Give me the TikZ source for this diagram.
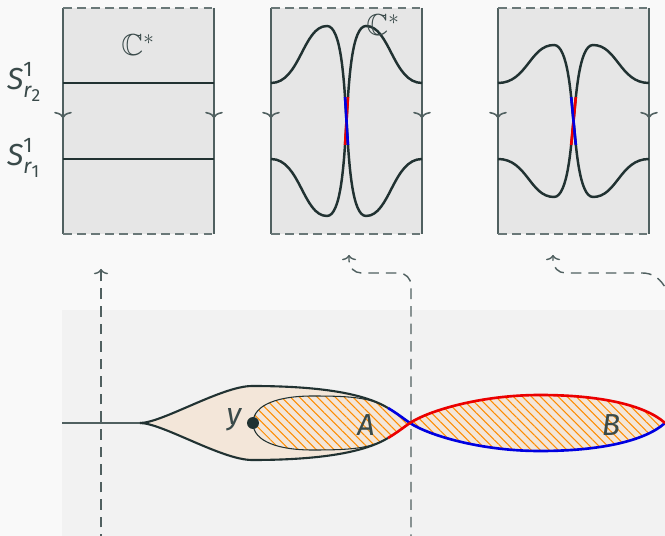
\documentclass[tikz,border=0pt]{standalone}
\usepackage{amsmath, amssymb}
\usepackage{fontspec}
\setmainfont{Fira Sans}
\usetikzlibrary{arrows.meta, patterns.meta}

\definecolor{framegray}{RGB}{80,96,96}
\definecolor{curvedark}{RGB}{33,50,50}
\definecolor{labelgray}{RGB}{58,74,74}
\definecolor{boxfill}{RGB}{230,230,230}
\definecolor{panelfill}{RGB}{242,242,242}
\definecolor{pagefill}{RGB}{249,249,249}
\definecolor{tearfill}{RGB}{243,230,217}
\definecolor{hatchorange}{RGB}{255,140,0}
\definecolor{lensred}{RGB}{235,0,0}
\definecolor{lensblue}{RGB}{0,0,225}

\begin{document}
\begin{tikzpicture}[x=0.02cm, y=-0.02cm,
    curve/.style={curvedark, line width=1.4pt},
    redseg/.style={lensred, line width=1.5pt},
    blueseg/.style={lensblue, line width=1.5pt},
    sidetip/.style={framegray, line width=0.9pt, -{Computer Modern Rightarrow[length=3.5pt, width=10pt]}},
    jump/.style={framegray, line width=0.8pt, dash pattern=on 6pt off 4pt, -{Computer Modern Rightarrow[length=3pt, width=8pt]}},
    hatch/.style={preaction={fill=tearfill}, pattern={Lines[angle=-45, distance=3.6pt, line width=0.6pt]}, pattern color=hatchorange},
    lbl/.style={text=labelgray, inner sep=1pt}]
    % 背景
    \useasboundingbox (0,0) rectangle (665,536);
    \fill[pagefill] (0,0) rectangle (665,536);
    \fill[panelfill] (62,310) rectangle (665,536);

    % 三个柱面框（左右边实线，上下边虚线）
    \foreach \l in {63,271,498} {
      \fill[boxfill] (\l,8) rectangle ++(151,226);
      \draw[framegray, line width=0.8pt] (\l,8) -- (\l,234) (\l+151,8) -- (\l+151,234);
      \draw[framegray!85, line width=0.8pt, dash pattern=on 5pt off 3pt]
        (\l,8) -- ++(151,0) (\l,234) -- ++(151,0);
      \foreach \s in {0,151} {
        \draw[sidetip] (\l+\s,106) -- (\l+\s,118);
      }
    }

    % 第一个框：两个圆周
    \draw[curve] (63,83) -- (214,83);
    \draw[curve] (63,159) -- (214,159);
    \node[lbl] (cstarA) at (138,45) {\LARGE$\mathbb{C}^*$};
    \node[lbl, anchor=west] (rtwo) at (5,82) {\LARGE$\textit{S}^{\text{1}}_{\textit{r}_{\text{2}}}$};
    \node[lbl, anchor=west] (rone) at (5,158) {\LARGE$\textit{S}^{\text{1}}_{\textit{r}_{\text{1}}}$};

    % 第二、三个框：交叉的曲线（\h 为峰高）
    \foreach \l/\h in {271/26, 498/45} {
      \begin{scope}[shift={(\l,0)}]
        \def\pathone{(0,83) .. controls (29,83) and (32,\h) .. (56,\h)
          .. controls (70,\h) and (73,\h+52) .. (75.5,121)
          .. controls (78,190-\h) and (81,242-\h) .. (95,242-\h)
          .. controls (119,242-\h) and (122,159) .. (151,159)}
        \def\pathtwo{(151,83) .. controls (122,83) and (119,\h) .. (95,\h)
          .. controls (81,\h) and (78,\h+52) .. (75.5,121)
          .. controls (73,190-\h) and (70,242-\h) .. (56,242-\h)
          .. controls (32,242-\h) and (29,159) .. (0,159)}
        \draw[curve] \pathone;
        \draw[curve] \pathtwo;
        \begin{scope}
          \clip (55,98) rectangle (96,145);
          \draw[redseg] \pathtwo;
          \draw[blueseg] \pathone;
        \end{scope}
      \end{scope}
    }
    \node[lbl] (cstarB) at (383,25) {\LARGE$\mathbb{C}^*$};

    % 虚线箭头
    \coordinate (srcA) at (101,545);
    \coordinate (tipA) at (101,269);
    \draw[jump] (srcA) -- (tipA);
    \draw[jump, rounded corners=7pt] (411,545) -- (411,273) -- (349,273) -- (349,255);
    \draw[jump, rounded corners=7pt] (672,320) .. controls (672,290) and (660,273) .. (630,273)
      -- (553,273) -- (553,255);

    % 泪滴区域
    \draw[framegray, line width=0.7pt] (62,423) -- (140,423);
    \fill[tearfill] (140,423) .. controls (162,423) and (222,386) .. (252,386)
      .. controls (322,386) and (365,394) .. (388,408)
      .. controls (398,414) and (404,419) .. (410,423)
      .. controls (404,427) and (398,432) .. (388,438)
      .. controls (365,452) and (322,460) .. (252,460)
      .. controls (222,460) and (162,423) .. (140,423) -- cycle;

    % 区域 A
    \fill[hatch] (253,423) .. controls (253,404) and (280,396) .. (312,396)
      .. controls (348,396) and (370,397) .. (388,408)
      .. controls (398,414) and (404,419) .. (410,423)
      .. controls (404,427) and (398,432) .. (388,438)
      .. controls (370,449) and (348,450) .. (312,450)
      .. controls (280,450) and (253,442) .. (253,423) -- cycle;

    % 区域 B
    \fill[hatch] (410,423) .. controls (428,411) and (480,395) .. (540,395)
      .. controls (600,395) and (645,405) .. (665,423)
      .. controls (645,441) and (600,451) .. (540,451)
      .. controls (480,451) and (428,435) .. (410,423) -- cycle;

    % 边界线
    \draw[curvedark, line width=1.2pt] (140,423) .. controls (162,423) and (222,386) .. (252,386)
      .. controls (322,386) and (365,394) .. (388,408);
    \draw[curvedark, line width=1.2pt] (140,423) .. controls (162,423) and (222,460) .. (252,460)
      .. controls (322,460) and (365,452) .. (388,438);
    \draw[curvedark, line width=0.6pt] (388,408) .. controls (370,397) and (348,396) .. (312,396)
      .. controls (280,396) and (253,404) .. (253,423)
      .. controls (253,442) and (280,450) .. (312,450)
      .. controls (348,450) and (370,449) .. (388,438);
    \draw[blueseg] (388,408) .. controls (398,414) and (404,419) .. (410,423)
      .. controls (428,435) and (480,451) .. (540,451)
      .. controls (600,451) and (645,441) .. (665,423);
    \draw[redseg] (388,438) .. controls (398,432) and (404,427) .. (410,423)
      .. controls (428,411) and (480,395) .. (540,395)
      .. controls (600,395) and (645,405) .. (665,423);

    % 点 y 与标签
    \node[circle, fill=curvedark, inner sep=0pt, minimum size=6.8pt] (ydot) at (253,423) {};
    \node[lbl] (ylab) at (234,420) {\LARGE\itshape y};
    \node[lbl] (alab) at (366,425) {\LARGE\itshape A};
    \node[lbl] (blab) at (611,425) {\LARGE\itshape B};

\end{tikzpicture}
\end{document}
